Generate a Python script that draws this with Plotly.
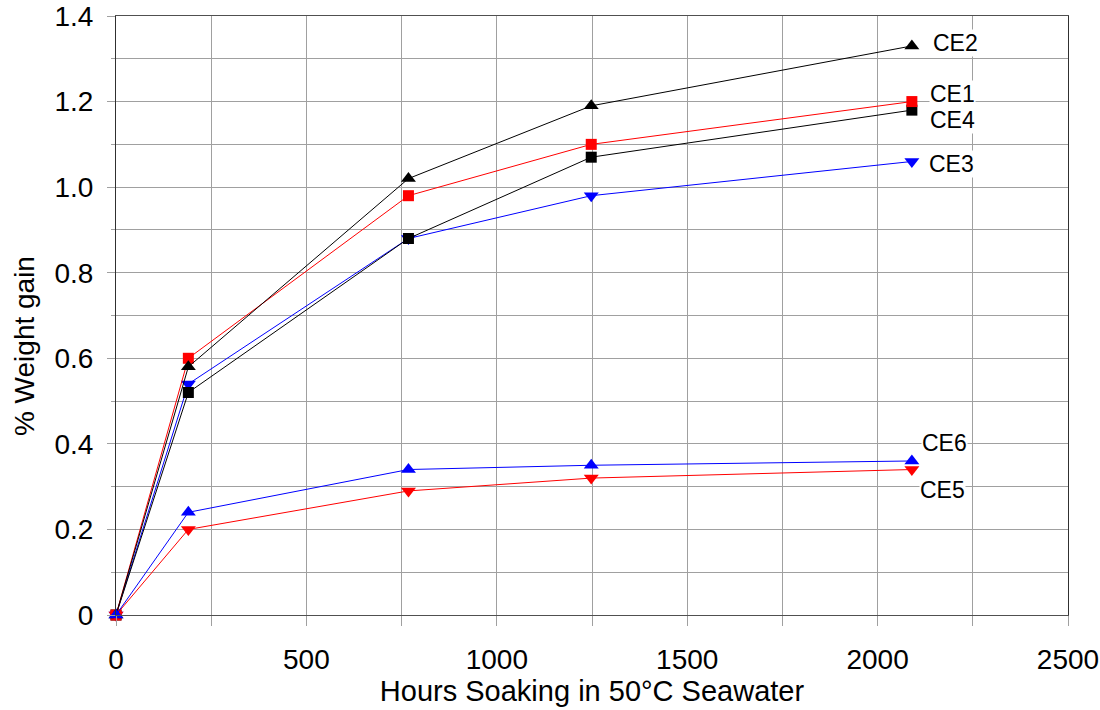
import plotly.graph_objects as go

hours = [0, 190, 768, 1248, 2090]

series_names = ["CE1", "CE2", "CE3", "CE4", "CE5", "CE6"]
ce1 = [0, 0.60, 0.98, 1.10, 1.20]
ce2 = [0, 0.58, 1.02, 1.19, 1.33]
ce3 = [0, 0.54, 0.88, 0.98, 1.06]
ce4 = [0, 0.52, 0.88, 1.07, 1.18]
ce5 = [0, 0.20, 0.29, 0.32, 0.34]
ce6 = [0, 0.24, 0.34, 0.35, 0.36]

label_x = [2134, 2142, 2132, 2134, 2108, 2113]
label_y = [1.217, 1.336, 1.054, 1.157, 0.292, 0.402]

y_tickvals = [0, 0.2, 0.4, 0.6, 0.8, 1.0, 1.2, 1.4]
y_ticktext = ["0", "0.2", "0.4", "0.6", "0.8", "1.0", "1.2", "1.4"]
x_tickvals = [0, 500, 1000, 1500, 2000, 2500]
x_ticktext = ["0", "500", "1000", "1500", "2000", "2500"]

styles = {
    "CE1": dict(color="#ff0000", symbol="square", size=11),
    "CE2": dict(color="#000000", symbol="triangle-up", size=13),
    "CE3": dict(color="#0000ff", symbol="triangle-down", size=13),
    "CE4": dict(color="#000000", symbol="square", size=11),
    "CE5": dict(color="#ff0000", symbol="triangle-down", size=13),
    "CE6": dict(color="#0000ff", symbol="triangle-up", size=13),
}
values = {"CE1": ce1, "CE2": ce2, "CE3": ce3, "CE4": ce4, "CE5": ce5, "CE6": ce6}
draw_order = ["CE3", "CE4", "CE1", "CE2", "CE5", "CE6"]

FONT = "Liberation Sans, Arial, sans-serif"

fig = go.Figure()
for name in draw_order:
    st = styles[name]
    fig.add_trace(go.Scatter(
        x=hours, y=values[name], mode="lines+markers", name=name,
        line=dict(color=st["color"], width=1),
        marker=dict(color=st["color"], symbol=st["symbol"], size=st["size"], line=dict(width=0)),
        showlegend=False, cliponaxis=False,
    ))

for name, lx, ly in zip(series_names, label_x, label_y):
    fig.add_annotation(
        x=lx, y=ly, xref="x", yref="y", text=name, showarrow=False,
        xanchor="left", yanchor="middle", bgcolor="white",
        font=dict(family=FONT, size=23, color="black"), borderpad=0,
    )

# y-axis title placed as an annotation (it sits below the plot centre in the reference)
fig.add_annotation(
    x=-0.0966, y=0.449, xref="paper", yref="paper", text="% Weight gain",
    textangle=-90, showarrow=False, xanchor="center", yanchor="middle",
    font=dict(family=FONT, size=28, color="black"),
)

fig.update_layout(
    width=1100, height=710,
    margin=dict(l=116, r=32, t=16, b=95),
    paper_bgcolor="white", plot_bgcolor="white",
    font=dict(family=FONT, color="black"),
    xaxis=dict(
        range=[0, 2500], tickvals=x_tickvals, ticktext=x_ticktext,
        ticks="outside", ticklen=10, tickcolor="#a0a0a0",
        tickfont=dict(size=28), ticklabelstandoff=9,
        showgrid=True, gridcolor="#a0a0a0", gridwidth=1,
        minor=dict(dtick=250, tick0=0, ticks="outside", ticklen=10, tickcolor="#a0a0a0",
                   showgrid=True, gridcolor="#a0a0a0"),
        showline=True, linecolor="#505050", linewidth=1, mirror=True,
        zeroline=False, automargin=False,
        title=dict(text="Hours Soaking in 50°C Seawater", font=dict(size=29), standoff=6),
    ),
    yaxis=dict(
        range=[0, 1.4], tickvals=y_tickvals, ticktext=y_ticktext,
        ticks="outside", ticklen=8, tickcolor="#a0a0a0",
        tickfont=dict(size=28), ticklabelstandoff=8,
        showgrid=True, gridcolor="#a0a0a0", gridwidth=1,
        minor=dict(dtick=0.1, tick0=0, ticks="outside", ticklen=4, tickcolor="#a0a0a0",
                   showgrid=True, gridcolor="#a0a0a0"),
        showline=True, linecolor="#303030", linewidth=1, mirror=True,
        zeroline=False, automargin=False,
    ),
)

fig.write_html("out.html")
